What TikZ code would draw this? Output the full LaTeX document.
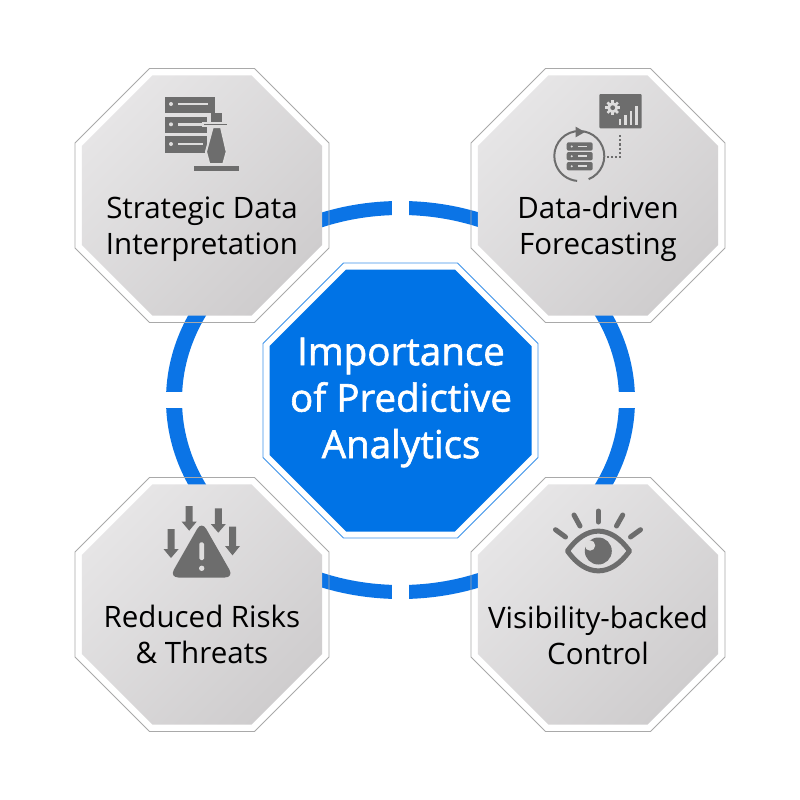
\documentclass[tikz,border=0pt]{standalone}
\usepackage{fontspec}
\setmainfont{Open Sans}
\newfontfamily\midfont[FakeBold=1.6]{Open Sans}
\usetikzlibrary{shapes.geometric}
\definecolor{ringblue}{HTML}{0B74E6}
\definecolor{midblue}{HTML}{0073E6}
\definecolor{midline}{HTML}{3C92EA}
\definecolor{boxline}{HTML}{A9A9A9}
\definecolor{boxlight}{HTML}{E6E5E6}
\definecolor{boxdark}{HTML}{CFCDCE}
\definecolor{iconfill}{HTML}{6D6D6D}
\definecolor{iconhole}{HTML}{DEDDDD}
\tikzset{
  octa/.style={regular polygon,regular polygon sides=8,inner sep=0pt,outer sep=0pt},
  boxfill/.style={octa,minimum size=259.8pt,top color=boxlight,bottom color=boxdark,shading angle=45},
  boxedge/.style={octa,minimum size=274.9pt,draw=boxline,line width=0.9pt},
  boxtext/.style={align=center,font=\fontsize{29.5}{36}\selectfont,text=black},
  midtext/.style={align=center,font=\midfont\fontsize{38.5}{46.5}\selectfont,text=white}
}
\begin{document}
\begin{tikzpicture}[x=1pt,y=-1pt]
\useasboundingbox (0,0) rectangle (800,800);
\fill[white] (0,0) rectangle (800,800);
% ring
\fill[ringblue,even odd rule] (400.5,400) ellipse [x radius=234.5,y radius=199] (400.5,400) ellipse [x radius=218.5,y radius=185];
\fill[white] (392,190) rectangle (409,230);
\fill[white] (392,570) rectangle (409,610);
\fill[white] (155,392) rectangle (195,408);
\fill[white] (605,392) rectangle (645,408);
% boxes
\node[boxfill] (stratfill) at (202,195.5) {};
\node[boxedge] (stratedge) at (202,195.5) {};
\node[boxfill] (datafill) at (598,195.5) {};
\node[boxedge] (dataedge) at (598,195.5) {};
\node[boxfill] (riskfill) at (202,604.5) {};
\node[boxedge] (riskedge) at (202,604.5) {};
\node[boxfill] (visfill) at (598,604.5) {};
\node[boxedge] (visedge) at (598,604.5) {};
\node[octa,minimum size=283.6pt,fill=midblue] (midfill) at (400.5,400.5) {};
\node[octa,minimum size=297.7pt,draw=midline,line width=0.9pt] (midedge) at (400.5,400.5) {};
% labels
\node[boxtext] (stratlabel) at (202,229) {Strategic Data\\Interpretation};
\node[boxtext] (datalabel) at (598,229) {Data-driven\\Forecasting};
\node[boxtext] (risklabel) at (202,634) {Reduced Risks\\\& Threats};
\node[boxtext] (vislabel) at (598,635) {Visibility-backed\\Control};
\node[midtext] (midlabel) at (401,402.5) {Importance\\of Predictive\\Analytics};
% server and bishop icon
\fill[iconfill] (165,97) rectangle (215,113);
\fill[iconfill] (165,117) rectangle (207,133);
\fill[iconfill] (165,136) rectangle (207,153);
\fill[iconhole] (171,104) circle (2);
\fill[iconhole] (178,102.7) rectangle (208,105.3);
\fill[iconhole] (171,124.3) circle (2);
\fill[iconhole] (178,123) rectangle (205,125.6);
\fill[iconhole] (171,144) circle (2);
\fill[iconhole] (178,142.7) rectangle (203,145.3);
\fill[iconfill,draw=iconhole,line width=2pt] (212.7,127) -- (221,127) -- (226.7,151.7) -- (223.3,164) -- (209.3,164) -- (206,151.7) -- cycle;
\fill[iconfill,draw=iconhole,line width=1.5pt] (203,123.2) rectangle (228,125.8);
\fill[iconfill] (211,112.7) rectangle (222.3,122);
\fill[iconfill] (193.7,166.3) rectangle (239,170.7);
% forecast icon
\fill[iconfill,rounded corners=1pt] (599.3,94) rectangle (641.7,128.3);
\fill[iconhole] (612.7,107.7) circle (5.5);
\foreach \a in {0,45,...,315} \draw[iconhole,line width=2.6pt] (612.7,107.7) -- ++(\a:7.4);
\fill[iconfill] (612.7,107.7) circle (2.4);
\fill[iconhole] (618.5,119.3) rectangle (620.8,125);
\fill[iconhole] (624.3,115) rectangle (626.6,125);
\fill[iconhole] (630,110.7) rectangle (632.3,125);
\fill[iconhole] (635,106) rectangle (637.5,125);
\draw[iconfill,line width=2.2pt,dotted] (620,135) -- (620,157.3) -- (607,157.3);
\draw[iconfill,line width=2pt] (579.3,156) ++(68:25) arc (68:-265:25);
\fill[iconfill] (575.7,126.7) -- (585,132) -- (575.7,137.3) -- cycle;
\foreach \y in {142.3,152,162} {
  \fill[iconfill,rounded corners=2pt] (566.7,\y) rectangle (592.7,\y+8.4);
  \fill[iconhole] (571.7,\y+4.2) circle (1.1);
  \fill[iconhole] (578.3,\y+3.4) rectangle (587.3,\y+5);
}
% warning icon
\fill[iconfill,rounded corners=9pt] (201.7,521) -- (233.9,577.5) -- (169.4,577.5) -- cycle;
\fill[iconhole,rounded corners=1.5pt] (199.4,542.3) rectangle (204,560);
\fill[iconhole] (201.7,568.3) circle (2.7);
\fill[iconfill] (167.5,529) -- (174.5,529) -- (174.5,549) -- (178.7,549) -- (171,558) -- (163.5,549) -- (167.5,549) -- cycle;
\fill[iconfill] (185.7,506) -- (192.7,506) -- (192.7,521.7) -- (196.7,521.7) -- (189.2,530.7) -- (181.7,521.7) -- (185.7,521.7) -- cycle;
\fill[iconfill] (214.8,508.3) -- (221.8,508.3) -- (221.8,524) -- (225.8,524) -- (218.3,532.7) -- (210.8,524) -- (214.8,524) -- cycle;
\fill[iconfill] (229,526.7) -- (236,526.7) -- (236,546) -- (240,546) -- (232.5,555.3) -- (225,546) -- (229,546) -- cycle;
% eye icon
\draw[iconfill,line width=5pt,line join=round] (567.5,551) .. controls (586,524.5) and (610.6,524.5) .. (629.5,551) .. controls (610.6,577.5) and (586,577.5) .. (567.5,551) -- cycle;
\fill[iconfill] (598.3,551) circle (13.5);
\fill[iconhole] (590,545.5) circle (5.2);
\draw[iconfill,line width=5pt,line cap=round] (598.3,511) -- (598.3,522);
\draw[iconfill,line width=5pt,line cap=round] (574,515) -- (580,526);
\draw[iconfill,line width=5pt,line cap=round] (622.7,515) -- (616.5,526);
\draw[iconfill,line width=5pt,line cap=round] (555.5,529.7) -- (565.5,537);
\draw[iconfill,line width=5pt,line cap=round] (640.5,529.7) -- (630.5,537);
\end{tikzpicture}
\end{document}
